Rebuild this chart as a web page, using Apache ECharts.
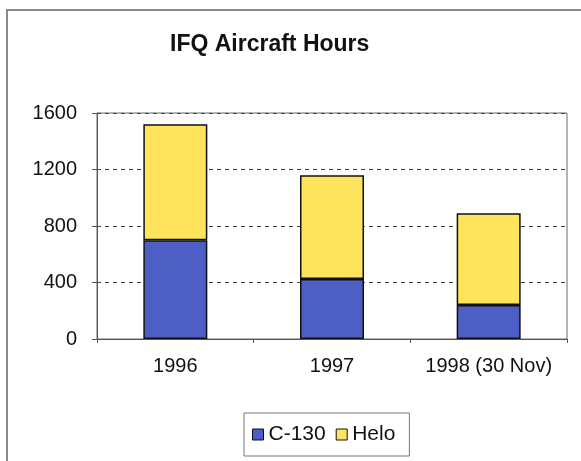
<!DOCTYPE html>
<html>
<head>
<meta charset="utf-8">
<script src="https://cdn.jsdelivr.net/npm/echarts@6/dist/echarts.min.js"></script>
<style>
  html, body { margin: 0; padding: 0; background: #fff; }
  #chart { width: 581px; height: 461px; position: relative; }
  .frame {
    position: absolute; left: 6px; top: 9px; width: 573px; height: 460px;
    border-top: 2px solid #8a8a8a; border-left: 2px solid #8a8a8a; border-right: 1px solid #ddd;
    pointer-events: none;
  }
</style>
</head>
<body>
<div id="chart"></div>
<div class="frame"></div>
<script>
const years = ['1996', '1997', '1998 (30 Nov)']
const c130Hours = [700, 425, 240]
const heloHours = [820, 735, 650]
const yTicks = { min: 0, max: 1600, step: 400 }

const chart = echarts.init(document.getElementById('chart'), null, { renderer: 'canvas' })

const labelFont = 'Liberation Sans, Arial, sans-serif'

chart.setOption({
  backgroundColor: '#fff',
  animation: false,
  title: {
    text: 'IFQ Aircraft Hours',
    left: 165,
    top: 28,
    textStyle: {
      fontFamily: labelFont,
      fontSize: 23,
      fontWeight: 'bold',
      color: '#111'
    }
  },
  grid: {
    left: 97,
    right: 14,
    top: 113,
    bottom: 122,
    show: true,
    borderColor: '#6a6a6a',
    borderWidth: 1
  },
  legend: {
    left: 244,
    top: 413,
    icon: 'rect',
    itemWidth: 11,
    itemHeight: 11,
    itemGap: 10,
    padding: [11, 14, 11, 8],
    borderColor: '#777',
    borderWidth: 1,
    itemStyle: { borderColor: '#111', borderWidth: 1 },
    textStyle: { fontFamily: labelFont, fontSize: 21, color: '#111' },
    data: ['C-130', 'Helo']
  },
  xAxis: {
    type: 'category',
    data: years,
    axisLine: { lineStyle: { color: '#555', width: 1 } },
    axisTick: { show: true, length: 4, lineStyle: { color: '#555' } },
    axisLabel: {
      interval: 0,
      margin: 17,
      fontFamily: labelFont,
      fontSize: 20,
      color: '#111'
    }
  },
  yAxis: {
    type: 'value',
    min: yTicks.min,
    max: yTicks.max,
    interval: yTicks.step,
    axisLine: { show: true, lineStyle: { color: '#555', width: 1 } },
    axisTick: { show: true, length: 5, lineStyle: { color: '#555' } },
    axisLabel: {
      margin: 20,
      fontFamily: labelFont,
      fontSize: 20,
      color: '#111',
      formatter: v => String(v)
    },
    splitLine: {
      show: true,
      lineStyle: { color: '#444', type: [4, 4], width: 1 }
    }
  },
  series: [
    {
      name: 'C-130',
      type: 'bar',
      stack: 'hours',
      barWidth: 64,
      data: c130Hours,
      itemStyle: { color: '#4d5fc4', borderColor: '#111', borderWidth: 1.5 }
    },
    {
      name: 'Helo',
      type: 'bar',
      stack: 'hours',
      barWidth: 64,
      data: heloHours,
      itemStyle: { color: '#fde45c', borderColor: '#111', borderWidth: 1.5 }
    }
  ]
})
</script>
</body>
</html>
